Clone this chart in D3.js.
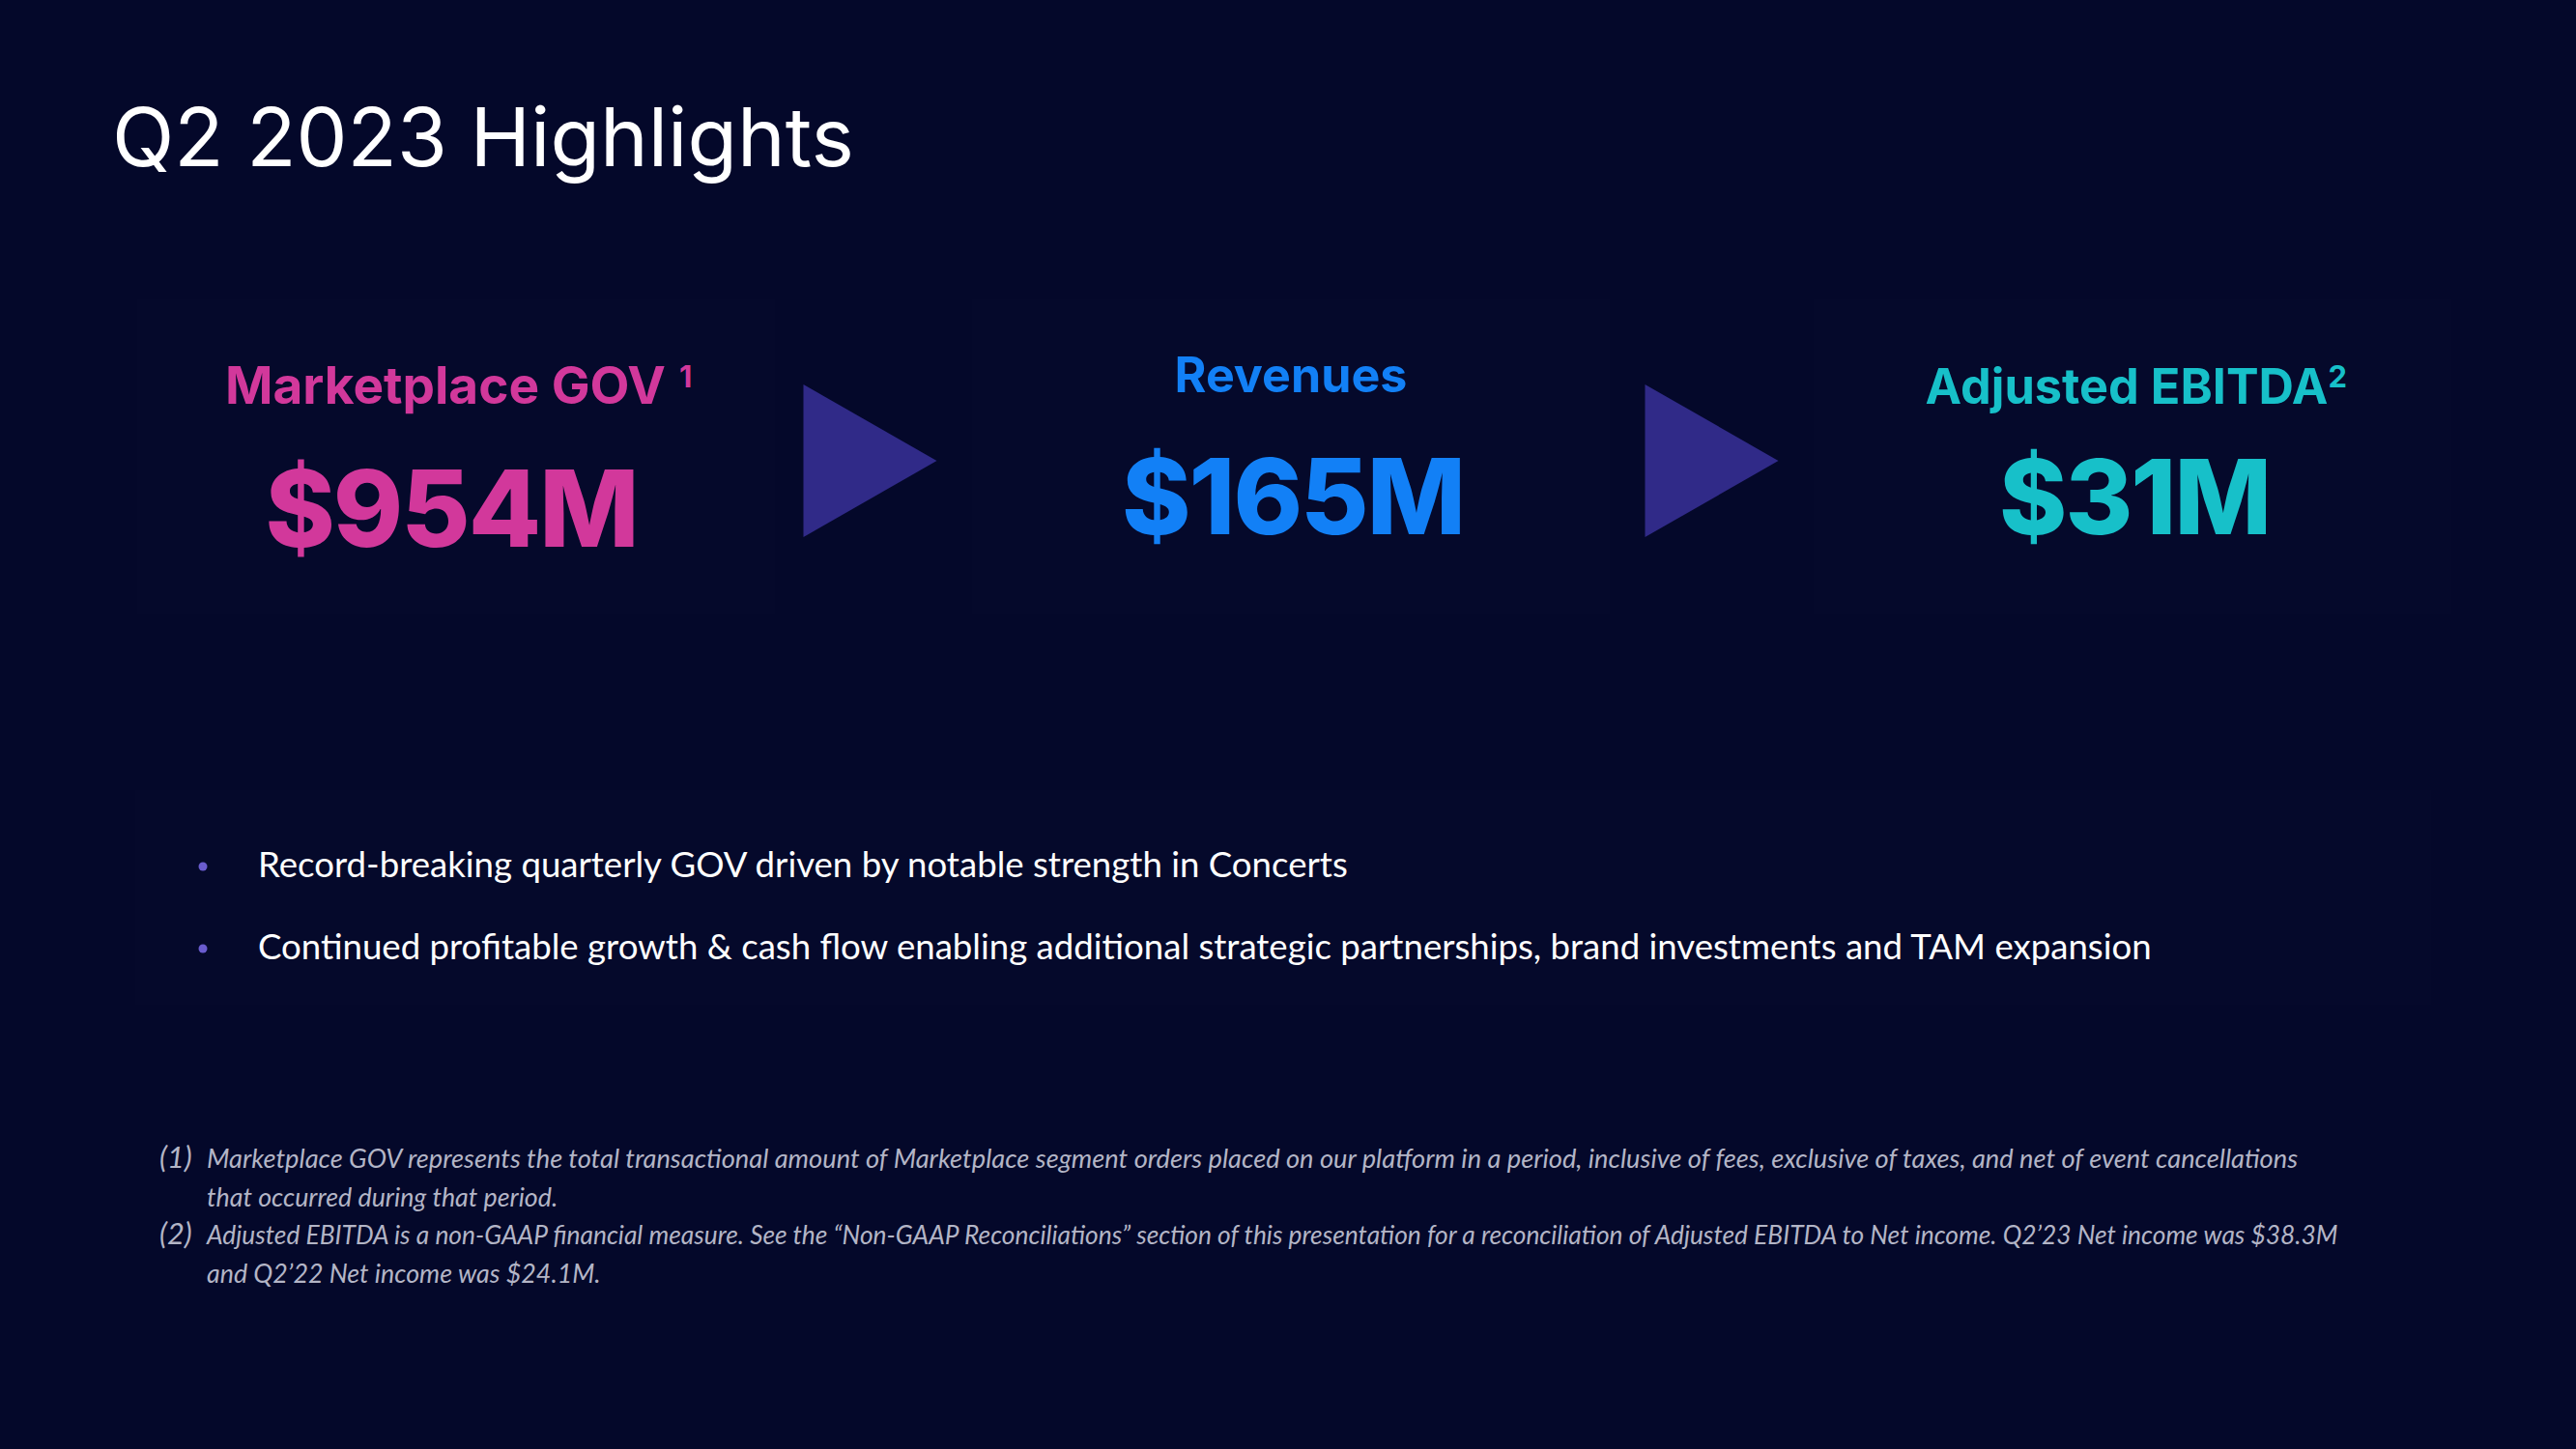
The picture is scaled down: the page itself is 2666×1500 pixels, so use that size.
<!DOCTYPE html>
<html>
<head>
<meta charset="utf-8">
<script src="https://cdn.jsdelivr.net/npm/d3@7"></script>
<style>
  html, body { margin: 0; padding: 0; background: #04082a; }
  svg { display: block; }
</style>
</head>
<body>
<script>
// ---- data ----
const title = "Q2 2023 Highlights";
const metrics = ["Marketplace GOV", "Revenues", "Adjusted EBITDA"];
const metricSup = ["1", "", "2"];
const metricValues = ["$954M", "$165M", "$31M"];
const bullets = [
  "Record-breaking quarterly GOV driven by notable strength in Concerts",
  "Continued profitable growth & cash flow enabling additional strategic partnerships, brand investments and TAM expansion"
];
const footnoteMarks = ["(1)", "", "(2)", ""];
const footnotes = [
  "Marketplace GOV represents the total transactional amount of Marketplace segment orders placed on our platform in a period, inclusive of fees, exclusive of taxes, and net of event cancellations",
  "that occurred during that period.",
  "Adjusted EBITDA is a non-GAAP financial measure. See the \u201CNon-GAAP Reconciliations\u201D section of this presentation for a reconciliation of Adjusted EBITDA to Net income. Q2\u201923 Net income was $38.3M",
  "and Q2\u201922 Net income was $24.1M."
];

// ---- styles ----
const W = 2666, H = 1500;
const bg = "#04082a";
const metricColors = ["#d2389b", "#1280f6", "#17c0c9"];
const arrowColor = "#302a88";

const svg = d3.select("body").append("svg").attr("width", W).attr("height", H);
svg.append("rect").attr("width", W).attr("height", H).attr("fill", bg);

function fit(sel, target) {
  const node = sel.node();
  const fs = parseFloat(sel.attr("font-size"));
  const len = node.getComputedTextLength();
  const nfs = fs * target / len;
  sel.attr("font-size", nfs);
  return nfs;
}

// title
const t = svg.append("text")
  .attr("x", 116).attr("y", 172)
  .attr("font-family", "Inter, 'Open Sans', sans-serif")
  .attr("font-weight", 400)
  .attr("font-size", 84)
  .attr("fill", "#ffffff")
  .text(title);
fit(t, 768);

// panels
const x = d3.scalePoint().domain(metrics).range([465, 2207]);
const panelW = 660;
svg.selectAll("rect.panel").data(metrics).join("rect")
  .attr("class", "panel")
  .attr("x", d => x(d) - panelW / 2 + (d === metrics[0] ? 7 : 0))
  .attr("y", 310).attr("width", panelW).attr("height", 326)
  .attr("fill", "#05092b");

// bullet panel
svg.append("rect").attr("x", 140).attr("y", 818).attr("width", 2376).attr("height", 222)
  .attr("fill", "#05092b");

// arrows
const arrows = metrics.slice(0, -1);
svg.selectAll("path.arrow").data(arrows).join("path")
  .attr("class", "arrow")
  .attr("d", d => {
    const cx = x(d) + x.step() / 2;
    return `M${cx - 69},398 L${cx + 69},477 L${cx - 69},556 Z`;
  })
  .attr("fill", arrowColor);

// metric labels
const labelWidths = [456, 241, 417];
const labelShift = [-4, 0, -6];
const valueWidths = [385, 354, 280];
metrics.forEach((m, i) => {
  const lab = svg.append("text")
    .attr("x", x(m) + labelShift[i]).attr("y", i === 1 ? 406 : 418)
    .attr("text-anchor", "middle")
    .attr("font-family", "Inter, Roboto, sans-serif")
    .attr("font-weight", 700)
    .attr("font-size", 50)
    .attr("fill", metricColors[i])
    .text(m);
  fit(lab, labelWidths[i]);
  if (metricSup[i]) {
    const bb = lab.node().getBBox();
    svg.append("text")
      .attr("x", bb.x + bb.width + (i === 0 ? 14 : 0))
      .attr("y", 401)
      .attr("font-family", "Inter, Roboto, sans-serif")
      .attr("font-weight", 700)
      .attr("font-size", 31)
      .attr("fill", metricColors[i])
      .text(metricSup[i]);
  }
  const val = svg.append("text")
    .attr("x", x(m) + 2).attr("y", i === 0 ? 566 : 553)
    .attr("text-anchor", "middle")
    .attr("font-family", "Inter, Roboto, sans-serif")
    .attr("font-weight", 800)
    .attr("font-size", 108)
    .attr("fill", metricColors[i])
    .style("letter-spacing", "-2px")
    .text(metricValues[i]);
  fit(val, valueWidths[i]);
});

// bullets
const by = d3.scalePoint().domain(d3.range(bullets.length)).range([908, 993]);
svg.selectAll("circle.dot").data(bullets).join("circle")
  .attr("class", "dot")
  .attr("cx", 210).attr("cy", (d, i) => by(i) - 11).attr("r", 4.5)
  .attr("fill", "#6a5ccf");
const bt = svg.selectAll("text.bullet").data(bullets).join("text")
  .attr("class", "bullet")
  .attr("x", 267).attr("y", (d, i) => by(i))
  .attr("font-family", "Lato, 'Open Sans', sans-serif")
  .attr("font-size", 36)
  .attr("fill", "#ffffff")
  .text(d => d);
const bfs = fit(d3.select(bt.nodes()[1]), 1960);
bt.attr("font-size", bfs);

// footnotes
const fy = d3.scalePoint().domain(d3.range(footnotes.length)).range([1209, 1328]);
const ft = svg.selectAll("text.fnote").data(footnotes).join("text")
  .attr("class", "fnote")
  .attr("x", 214).attr("y", (d, i) => fy(i))
  .attr("font-family", "Lato, 'Open Sans', sans-serif")
  .attr("font-style", "italic")
  .attr("font-size", 23)
  .attr("fill", "#b3b5c6")
  .text(d => d);
const f1 = fit(d3.select(ft.nodes()[0]), 2165);
const f3 = fit(d3.select(ft.nodes()[2]), 2207);
const fAvg = (f1 + f3) / 2;
d3.select(ft.nodes()[1]).attr("font-size", fAvg);
d3.select(ft.nodes()[3]).attr("font-size", fAvg);
svg.selectAll("text.fmark").data(footnoteMarks).join("text")
  .attr("class", "fmark")
  .attr("x", 165).attr("y", (d, i) => fy(i))
  .attr("font-family", "Lato, 'Open Sans', sans-serif")
  .attr("font-style", "italic")
  .attr("font-size", fAvg * 1.15)
  .attr("fill", "#b3b5c6")
  .text(d => d);
</script>
</body>
</html>
